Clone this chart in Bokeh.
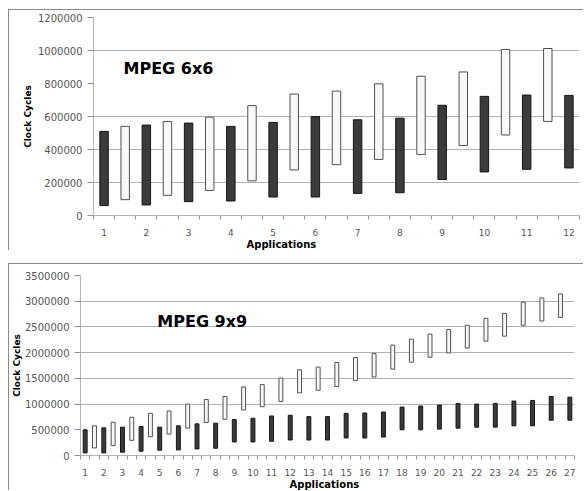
from bokeh.plotting import figure
from bokeh.models import Range1d, FixedTicker, BasicTickFormatter, Label, Title
from bokeh.embed import file_html
from bokeh.resources import INLINE

# ---------------- data: MPEG 6x6 ----------------
apps6 = list(range(1, 13))
dark6_low = [60000, 64000, 84000, 88000, 112000, 112000, 134000, 138000, 218000, 264000, 280000, 288000]
dark6_high = [510000, 548000, 560000, 540000, 564000, 600000, 580000, 590000, 668000, 722000, 730000, 728000]
white6_low = [96000, 122000, 152000, 210000, 276000, 308000, 340000, 370000, 424000, 488000, 570000]
white6_high = [540000, 570000, 596000, 666000, 736000, 754000, 798000, 844000, 870000, 1006000, 1012000]
yticks6 = [0, 200000, 400000, 600000, 800000, 1000000, 1200000]
ygrid6 = [200000, 400000, 600000, 1000000, 1200000]

# ---------------- data: MPEG 9x9 ----------------
apps9 = list(range(1, 28))
dark9_low = [51000, 51000, 64000, 83000, 103000, 109000, 128000, 141000, 263000, 263000, 276000, 301000, 301000, 301000,
             340000, 340000, 359000, 500000, 500000, 513000, 532000, 551000, 551000, 577000, 577000, 686000, 686000]
dark9_high = [500000, 538000, 551000, 564000, 551000, 577000, 615000, 628000, 699000, 724000, 769000, 782000, 756000, 756000,
              820000, 827000, 846000, 942000, 962000, 981000, 1013000, 1000000, 1013000, 1058000, 1070000, 1147000, 1135000]
white9_low = [147000, 192000, 295000, 365000, 417000, 532000, 641000, 705000, 885000, 949000, 1051000, 1218000, 1269000,
              1340000, 1455000, 1526000, 1679000, 1814000, 1910000, 1994000, 2090000, 2224000, 2320000, 2532000, 2615000, 2686000]
white9_high = [577000, 647000, 744000, 820000, 865000, 1000000, 1090000, 1147000, 1333000, 1378000, 1506000, 1667000, 1718000,
               1808000, 1904000, 1981000, 2147000, 2263000, 2359000, 2449000, 2532000, 2667000, 2763000, 2981000, 3064000, 3141000]
yticks9 = [0, 500000, 1000000, 1500000, 2000000, 2500000, 3000000, 3500000]
ygrid9 = [1000000, 1500000, 2000000, 2500000, 3000000, 3500000]

DARK_FILL = "#3b3b3b"
DARK_LINE = "#151515"
WHITE_FILL = "#f8f8f8"
WHITE_LINE = "#505050"
GRID = "#b0b0b0"
AXIS = "#b4b4b4"
TICK_TEXT = "#555555"
FONT = "DejaVu Sans"
BORDER = {"border-left": "1px solid #8a8a8a", "border-top": "1px solid #8a8a8a"}


def make_chart(apps, dlo, dhi, wlo, whi, yticks, ygrid, title, title_xy, app_offset,
               width, height, mbl, mbr, mbt, mbb, bar_w, ylab_standoff, tick_standoff,
               app_standoff, margin):
    n = len(apps)
    p = figure(width=width, height=height,
               x_range=Range1d(apps[0] - 0.25, apps[-1] + 0.25),
               y_range=Range1d(yticks[0], yticks[-1]),
               output_backend="svg", toolbar_location=None,
               min_border_left=mbl, min_border_right=mbr,
               min_border_top=mbt, min_border_bottom=mbb, margin=margin)
    p.background_fill_color = "white"
    p.border_fill_color = "white"
    p.outline_line_color = None
    p.styles = BORDER

    # dark bars at each application, white bars half a slot to the right
    p.vbar(x=apps, bottom=dlo, top=dhi, width=bar_w,
           fill_color=DARK_FILL, line_color=DARK_LINE, line_width=1)
    wx = [a + 0.5 for a in apps[:len(wlo)]]
    p.vbar(x=wx, bottom=wlo, top=whi, width=bar_w,
           fill_color=WHITE_FILL, line_color=WHITE_LINE, line_width=1)

    # grid
    p.xgrid.visible = False
    p.ygrid.ticker = FixedTicker(ticks=ygrid)
    p.ygrid.grid_line_color = GRID
    p.ygrid.grid_line_width = 1

    # x axis
    minor = [apps[0] - 0.25 + 0.5 * k for k in range(2 * n)]
    p.xaxis.ticker = FixedTicker(ticks=apps, minor_ticks=minor)
    p.xaxis.axis_line_color = AXIS
    p.xaxis.major_tick_line_color = None
    p.xaxis.major_tick_out = 0
    p.xaxis.major_tick_in = 0
    p.xaxis.minor_tick_line_color = "#909090"
    p.xaxis.minor_tick_out = 4
    p.xaxis.minor_tick_in = 0
    p.xaxis.major_label_standoff = tick_standoff
    p.xaxis.major_label_text_font = FONT
    p.xaxis.major_label_text_font_size = "9px"
    p.xaxis.major_label_text_color = TICK_TEXT

    # y axis
    p.yaxis.ticker = FixedTicker(ticks=yticks)
    p.yaxis.formatter = BasicTickFormatter(use_scientific=False)
    p.yaxis.axis_line_color = AXIS
    p.yaxis.major_tick_line_color = "#909090"
    p.yaxis.major_tick_out = 6
    p.yaxis.major_tick_in = 0
    p.yaxis.minor_tick_line_color = None
    p.yaxis.major_label_standoff = 5
    p.yaxis.major_label_text_font = FONT
    p.yaxis.major_label_text_font_size = "10px"
    p.yaxis.major_label_text_color = TICK_TEXT

    p.add_layout(Title(text="Clock Cycles", align="center",
                       text_font=FONT, text_font_style="bold", text_font_size="9px",
                       text_color="black", standoff=ylab_standoff), "left")

    p.add_layout(Label(x=title_xy[0], y=title_xy[1], text=title, text_font=FONT,
                       text_font_style="bold", text_font_size="16px",
                       text_color="black", text_baseline="alphabetic"))
    p.add_layout(Title(text="Applications", align="left", offset=app_offset,
                       vertical_align="top", text_baseline="top",
                       text_font=FONT, text_font_style="bold", text_font_size="10px",
                       text_color="black", standoff=app_standoff), "below")
    return p


p1 = make_chart(apps6, dark6_low, dark6_high, white6_low, white6_high, yticks6, ygrid6,
                "MPEG 6x6", (1.46, 888000), 153,
                width=575, height=241, mbl=84, mbr=5, mbt=7, mbb=34,
                bar_w=0.2, ylab_standoff=3, tick_standoff=9, app_standoff=0,
                margin=(9, 0, 0, 8))

p2 = make_chart(apps9, dark9_low, dark9_high, white9_low, white9_high, yticks9, ygrid9,
                "MPEG 9x9", (4.87, 2615000), 209,
                width=575, height=227, mbl=70, mbr=10, mbt=11, mbb=34,
                bar_w=0.21, ylab_standoff=0, tick_standoff=9, app_standoff=0,
                margin=(13, 0, 0, 8))

open("out.html", "w").write(file_html([p1, p2], INLINE))
